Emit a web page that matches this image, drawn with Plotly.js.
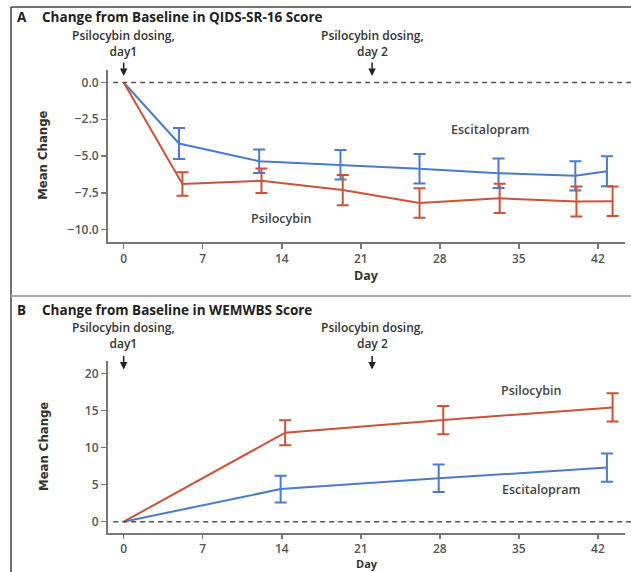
<!DOCTYPE html>
<html>
<head>
<meta charset="utf-8">
<script src="https://cdn.plot.ly/plotly-3.0.1.min.js"></script>
<style>html,body{margin:0;padding:0;background:#fff;}#chart{width:631px;height:572px;}</style>
</head>
<body>
<div id="chart"></div>
<script>
// ---- Panel A: QIDS-SR-16 change from baseline ----
const qidsEscDays  = [0, 4.9, 12.0, 19.2, 26.2, 33.2, 40.0, 42.8];
const qidsEscMean  = [0, -4.15, -5.35, -5.6, -5.87, -6.17, -6.35, -6.03];
const qidsEscErr   = [0, 1.05, 0.8, 1.0, 1.0, 1.0, 1.0, 1.02];
const qidsPsiDays  = [0, 5.2, 12.2, 19.4, 26.2, 33.3, 40.1, 43.3];
const qidsPsiMean  = [0, -6.9, -6.68, -7.32, -8.2, -7.88, -8.1, -8.08];
const qidsPsiErr   = [0, 0.8, 0.83, 1.03, 1.0, 1.0, 1.02, 1.0];

// ---- Panel B: WEMWBS change from baseline ----
const wemEscDays = [0, 13.9, 27.9, 42.8];
const wemEscMean = [0, 4.4, 5.85, 7.3];
const wemEscErr  = [0, 1.8, 1.85, 1.9];
const wemPsiDays = [0, 14.3, 28.3, 43.3];
const wemPsiMean = [0, 12.0, 13.7, 15.4];
const wemPsiErr  = [0, 1.68, 1.9, 1.9];

const dayTicks = [0, 7, 14, 21, 28, 35, 42];
const qidsTicks = [0, -2.5, -5, -7.5, -10];
const wemTicks = [0, 5, 10, 15, 20];
const dosingDays = [0, 22];
const dosingLabels = ["Psilocybin dosing,<br>day1", "Psilocybin dosing,<br>day 2"];

const BLUE = "#4a7bcf";
const RED = "#cc5339";
const W = 631, H = 572;
const py = px => 1 - px / H;
const pxX = px => px / W;

function lineTrace(x, y, color, xa, ya) {
  return {x: x, y: y, type: "scatter", mode: "lines", xaxis: xa, yaxis: ya,
          line: {color: color, width: 2}, hoverinfo: "skip", showlegend: false};
}
function errTrace(x, y, e, color, xa, ya) {
  return {x: x.slice(1), y: y.slice(1), type: "scatter", mode: "markers", xaxis: xa, yaxis: ya,
          marker: {size: 1, color: "rgba(0,0,0,0)"},
          error_y: {type: "data", array: e.slice(1), symmetric: true, color: color, thickness: 2, width: 6},
          hoverinfo: "skip", showlegend: false};
}

const data = [
  lineTrace(qidsEscDays, qidsEscMean, BLUE, "x", "y"),
  lineTrace(qidsPsiDays, qidsPsiMean, RED, "x", "y"),
  errTrace(qidsEscDays, qidsEscMean, qidsEscErr, BLUE, "x", "y"),
  errTrace(qidsPsiDays, qidsPsiMean, qidsPsiErr, RED, "x", "y"),
  lineTrace(wemEscDays, wemEscMean, BLUE, "x2", "y2"),
  lineTrace(wemPsiDays, wemPsiMean, RED, "x2", "y2"),
  errTrace(wemEscDays, wemEscMean, wemEscErr, BLUE, "x2", "y2"),
  errTrace(wemPsiDays, wemPsiMean, wemPsiErr, RED, "x2", "y2")
];

const tickFont = {family: "Open Sans, sans-serif", size: 12, color: "#555", weight: 600};
const axisCommon = {showline: true, linecolor: "#777", linewidth: 2, ticks: "outside",
  ticklen: 5, tickwidth: 1.5, tickcolor: "#777", showgrid: false, zeroline: false,
  tickfont: tickFont, fixedrange: true};
const xDomain = [pxX(108), pxX(625)];

const layout = {
  width: W, height: H,
  margin: {l: 0, r: 0, t: 0, b: 0},
  paper_bgcolor: "#fff", plot_bgcolor: "rgba(0,0,0,0)",
  showlegend: false,
  xaxis: Object.assign({}, axisCommon, {domain: xDomain, anchor: "y", range: [-1.39, 44.4], tickvals: dayTicks}),
  yaxis: Object.assign({}, axisCommon, {domain: [py(241.7), py(70)], anchor: "x", range: [-10.83, 0.85],
    tickvals: qidsTicks, tickformat: ".1f"}),
  xaxis2: Object.assign({}, axisCommon, {domain: xDomain, anchor: "y2", range: [-1.39, 44.4], tickvals: dayTicks, ticklen: 4}),
  yaxis2: Object.assign({}, axisCommon, {domain: [py(533), py(361)], anchor: "x2", range: [-1.52, 21.66],
    tickvals: wemTicks}),
  shapes: [
    // frame
    {type: "line", xref: "paper", yref: "paper", x0: pxX(11), x1: pxX(11), y0: py(7), y1: 0, line: {color: "#444", width: 1.5}},
    {type: "line", xref: "paper", yref: "paper", x0: pxX(11), x1: 1, y0: py(7), y1: py(7), line: {color: "#444", width: 1.5}},
    {type: "line", xref: "paper", yref: "paper", x0: pxX(11), x1: 1, y0: py(296), y1: py(296), line: {color: "#aaa", width: 2}},
    // zero reference lines
    {type: "line", xref: "x domain", yref: "y", x0: 0.01, x1: 1.012, y0: 0, y1: 0, line: {color: "#555", width: 1.5, dash: "5px,4px"}},
    {type: "line", xref: "x2 domain", yref: "y2", x0: 0.01, x1: 1.012, y0: 0, y1: 0, line: {color: "#555", width: 1.5, dash: "5px,4px"}}
  ],
  annotations: []
};

const A = layout.annotations;
const titleFont = {family: "Open Sans, sans-serif", size: 13.5, color: "#222", weight: 700};
A.push({xref: "paper", yref: "paper", x: pxX(15), y: py(17), xanchor: "left", yanchor: "middle", text: "A", showarrow: false, font: titleFont});
A.push({xref: "paper", yref: "paper", x: pxX(40), y: py(17), xanchor: "left", yanchor: "middle", text: "Change from Baseline in QIDS-SR-16 Score", showarrow: false, font: titleFont});
A.push({xref: "paper", yref: "paper", x: pxX(15), y: py(310), xanchor: "left", yanchor: "middle", text: "B", showarrow: false, font: titleFont});
A.push({xref: "paper", yref: "paper", x: pxX(40), y: py(310), xanchor: "left", yanchor: "middle", text: "Change from Baseline in WEMWBS Score", showarrow: false, font: titleFont});

const annFont = {family: "Open Sans, sans-serif", size: 12, color: "#333", weight: 600};
const panels = [
  {xa: "x", ya: "y", textY: 44, tipY: 0.45, dayY: 275, dayAnchor: "middle", daySize: 12.5},
  {xa: "x2", ya: "y2", textY: 335, tipY: 20.5, dayY: 572, dayAnchor: "bottom", daySize: 11}
];
panels.forEach(p => {
  dosingDays.forEach((d, i) => {
    A.push({xref: p.xa, yref: "paper", x: d, y: py(p.textY), xanchor: "center", yanchor: "middle",
      text: dosingLabels[i], showarrow: false, font: annFont, align: "center"});
    A.push({xref: p.xa, yref: p.ya, x: d, y: p.tipY, ax: 0, ay: -15, text: "", showarrow: true,
      arrowhead: 2, arrowsize: 1, arrowwidth: 1.5, arrowcolor: "#222"});
  });
  A.push({xref: "paper", yref: p.ya + " domain", x: pxX(43), y: 0.5, xanchor: "center", yanchor: "middle",
    text: "Mean Change", textangle: -90, showarrow: false,
    font: {family: "Liberation Sans Narrow, DejaVu Sans Condensed, sans-serif", size: 13, color: "#333", weight: 700}});
  A.push({xref: p.xa + " domain", yref: "paper", x: 0.5, y: py(p.dayY), xanchor: "center", yanchor: p.dayAnchor,
    text: "Day", showarrow: false, borderpad: 0,
    font: {family: "Open Sans, sans-serif", size: p.daySize, color: "#333", weight: 700}});
});

const seriesFont = {family: "Open Sans, sans-serif", size: 12.5, color: "#444", weight: 600};
A.push({xref: "x", yref: "y", x: 32.4, y: -3.17, text: "Escitalopram", showarrow: false, font: seriesFont});
A.push({xref: "x", yref: "y", x: 13.9, y: -9.24, text: "Psilocybin", showarrow: false, font: seriesFont});
A.push({xref: "x2", yref: "y2", x: 36.1, y: 17.65, text: "Psilocybin", showarrow: false, font: seriesFont});
A.push({xref: "x2", yref: "y2", x: 37.0, y: 4.3, text: "Escitalopram", showarrow: false, font: seriesFont});

Plotly.newPlot("chart", data, layout, {staticPlot: true, displayModeBar: false});
</script>
</body>
</html>
